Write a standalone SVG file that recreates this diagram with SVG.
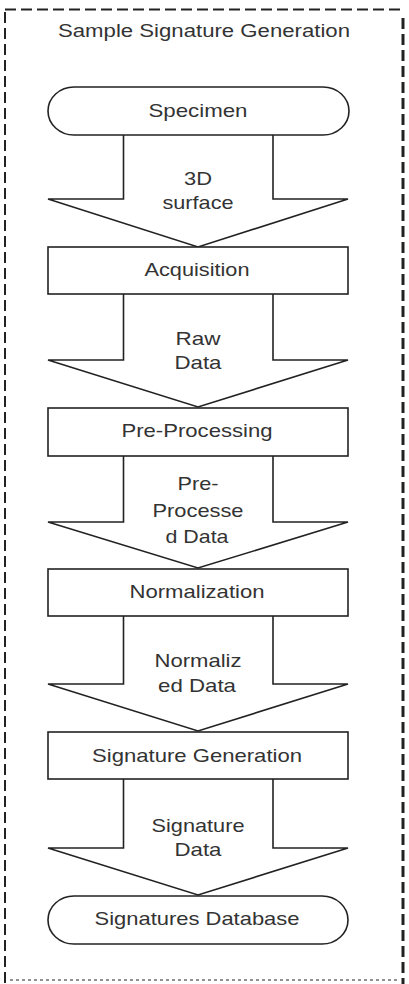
<svg xmlns="http://www.w3.org/2000/svg" width="409" height="984" viewBox="0 0 409 984">
<style>
.frame{fill:none;stroke:#222;stroke-dasharray:11 5}
.shape{fill:#fff;stroke:#222;stroke-width:1.6}
.arrow{fill:#fff;stroke:#222;stroke-width:1.6;stroke-linejoin:miter}
text{font-family:"Liberation Sans",Arial,sans-serif;font-size:19px;fill:#333;text-anchor:middle}
.title{font-size:17.5px}
</style>
<rect width="409" height="984" fill="#fff"/>
<g id="frame">
<line class="frame" x1="5" y1="9.5" x2="404" y2="9.5" stroke-width="2" stroke="#444"/>
<line class="frame" x1="5" y1="12" x2="5" y2="984" stroke-width="2"/>
<line class="frame" x1="403" y1="18" x2="403" y2="984" stroke-width="3"/>
<line class="frame" x1="10" y1="980" x2="400" y2="980" stroke-width="1" stroke="#ddd" style="stroke-dasharray:3 3"/>
<text class="title" x="204" y="37" textLength="292" lengthAdjust="spacingAndGlyphs">Sample Signature Generation</text>
</g>
<g id="connectors">
<g id="arrow1"><path class="arrow" d="M123.5,135 V199 H48 L198,247 L348,199 H273 V135"/>
<text x="198" y="185" textLength="28" lengthAdjust="spacingAndGlyphs">3D</text>
<text x="198" y="209" textLength="71" lengthAdjust="spacingAndGlyphs">surface</text></g>
<g id="arrow2"><path class="arrow" d="M123.5,294 V360 H48 L198,407 L348,360 H273 V294"/>
<text x="198" y="345" textLength="45" lengthAdjust="spacingAndGlyphs">Raw</text>
<text x="198" y="369" textLength="47" lengthAdjust="spacingAndGlyphs">Data</text></g>
<g id="arrow3"><path class="arrow" d="M123.5,456 V522 H48 L198,568 L348,522 H273 V456"/>
<text x="198" y="490" textLength="41" lengthAdjust="spacingAndGlyphs">Pre-</text>
<text x="198" y="517" textLength="91" lengthAdjust="spacingAndGlyphs">Processe</text>
<text x="197" y="543" textLength="63" lengthAdjust="spacingAndGlyphs">d Data</text></g>
<g id="arrow4"><path class="arrow" d="M123.5,616 V684 H48 L198,731 L348,684 H273 V616"/>
<text x="198" y="667" textLength="87" lengthAdjust="spacingAndGlyphs">Normaliz</text>
<text x="197" y="692" textLength="78" lengthAdjust="spacingAndGlyphs">ed Data</text></g>
<g id="arrow5"><path class="arrow" d="M123.5,779 V848 H48 L198,895 L348,848 H273 V779"/>
<text x="198" y="832" textLength="93" lengthAdjust="spacingAndGlyphs">Signature</text>
<text x="198" y="856" textLength="47" lengthAdjust="spacingAndGlyphs">Data</text></g>
</g>
<g id="specimen"><rect class="shape" x="48" y="87" width="301" height="48" rx="26" ry="24"/>
<text x="198" y="117" textLength="99" lengthAdjust="spacingAndGlyphs">Specimen</text></g>
<g id="acquisition"><rect class="shape" x="48" y="247" width="300" height="47"/>
<text x="197" y="276" textLength="105" lengthAdjust="spacingAndGlyphs">Acquisition</text></g>
<g id="preprocessing"><rect class="shape" x="48" y="408" width="300" height="48"/>
<text x="197" y="437" textLength="151" lengthAdjust="spacingAndGlyphs">Pre-Processing</text></g>
<g id="normalization"><rect class="shape" x="48" y="569" width="300" height="47"/>
<text x="197" y="598" textLength="135" lengthAdjust="spacingAndGlyphs">Normalization</text></g>
<g id="signaturegeneration"><rect class="shape" x="48" y="732" width="300" height="47"/>
<text x="197" y="762" textLength="210" lengthAdjust="spacingAndGlyphs">Signature Generation</text></g>
<g id="signaturesdatabase"><rect class="shape" x="48" y="896" width="300" height="48" rx="26" ry="24"/>
<text x="197" y="925" textLength="205" lengthAdjust="spacingAndGlyphs">Signatures Database</text></g>
</svg>
